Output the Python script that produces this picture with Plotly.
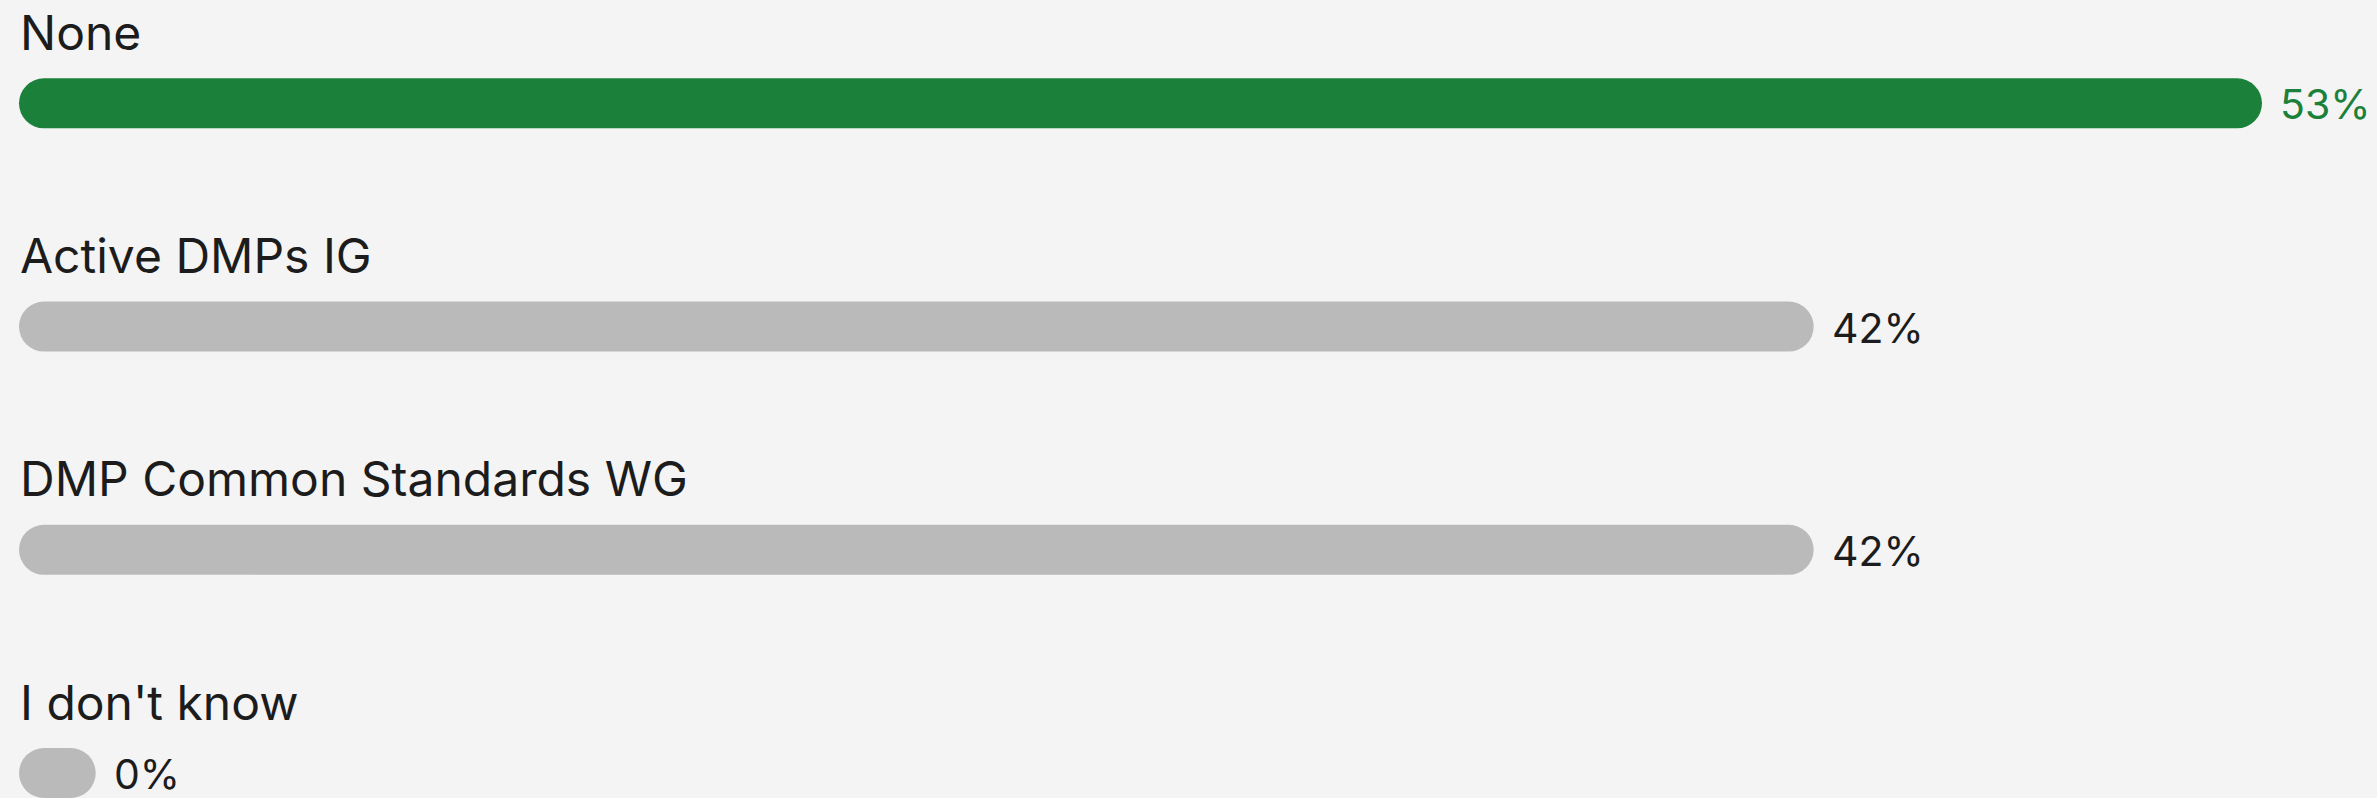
import plotly.graph_objects as go

categories = ["None", "Active DMPs IG", "DMP Common Standards WG", "I don't know"]
values = [52.63, 42.11, 42.11, 0.0]
value_labels = ["53%", "42%", "42%", "0%"]

GREEN = "#1b803a"
GRAY = "#bababa"
TEXT = "#1c1c1c"
BG = "#f4f4f4"
FONT = "Inter"
FS_LABEL = 48
FS_VALUE = 41
MIN_LEN = 1.8  # minimal visual pill length (data units)

colors = [GREEN if i == 0 else GRAY for i in range(len(categories))]
ypos = list(range(len(categories)))
lengths = [max(v, MIN_LEN) for v in values]

fig = go.Figure()
fig.add_trace(go.Bar(
    y=ypos, x=lengths, base=[0] * len(lengths), orientation="h",
    marker=dict(color=colors, cornerradius=25, line=dict(width=0)),
    width=0.224, hoverinfo="skip", showlegend=False,
))

for i, (cat, L, lab) in enumerate(zip(categories, lengths, value_labels)):
    fig.add_annotation(
        x=0, y=i, xref="x", yref="y", text=cat, showarrow=False,
        xanchor="left", yanchor="middle", xshift=-1, yshift=71,
        font=dict(family=FONT, size=FS_LABEL, color=TEXT),
    )
    fig.add_annotation(
        x=L, y=i, xref="x", yref="y", text=lab, showarrow=False,
        xanchor="left", yanchor="middle", xshift=16, yshift=-1,
        font=dict(family=FONT, size=FS_VALUE, color=GREEN if i == 0 else TEXT),
    )

px_per_unit = 2243 / 52.63
fig.update_layout(
    width=2377, height=798, barmode="overlay",
    margin=dict(l=0, r=0, t=0, b=0),
    paper_bgcolor=BG, plot_bgcolor=BG,
    xaxis=dict(range=[-19 / px_per_unit, (2377 - 19) / px_per_unit],
               showgrid=False, zeroline=False, showticklabels=False, fixedrange=True),
    yaxis=dict(range=[3.112, -0.463], showgrid=False, zeroline=False,
               showticklabels=False, fixedrange=True),
    font=dict(family=FONT),
)

fig.write_html(
    "out.html",
    config={"displayModeBar": False},
    post_script="document.body.style.margin='0';document.body.style.background='" + BG + "';",
)
